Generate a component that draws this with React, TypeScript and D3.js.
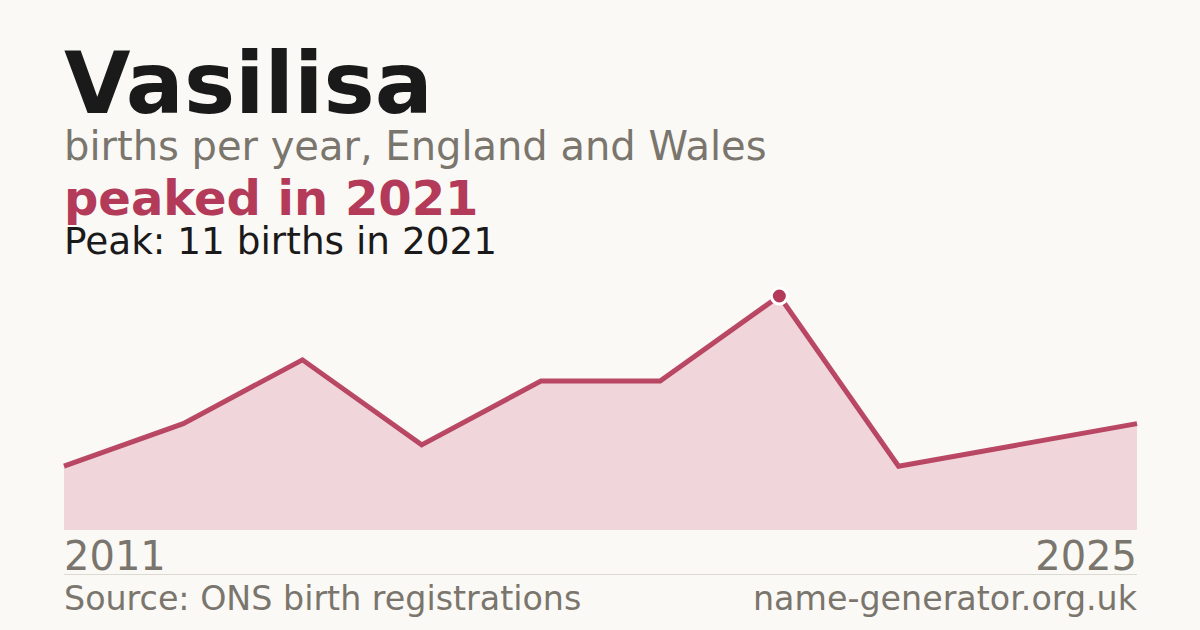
import { useEffect, useRef } from 'react';
import * as d3 from 'd3';

// Births per year (years with registered births)
const years = [2011, 2013, 2014, 2016, 2017, 2019, 2021, 2022, 2024, 2025];
const births = [3, 5, 8, 4, 7, 7, 11, 3, 4, 5];
const axisLabels = ['2011', '2025'];

const BG = '#faf9f5';
const ACCENT = '#b33a58';
const FILL = '#f0d5da';
const MUTED = '#7a756d';
const INK = '#1a1a1a';

export default function App() {
  const svgRef = useRef<SVGSVGElement>(null);

  useEffect(() => {
    if (!svgRef.current) return;
    const svg = d3.select(svgRef.current);
    svg.selectAll('*').remove();

    const width = 1200;
    const height = 630;
    const margin = { left: 64, right: 63, top: 296, bottom: 100 };
    const font = '"DejaVu Sans", sans-serif';

    svg.append('rect').attr('width', width).attr('height', height).attr('fill', BG);

    const data = years.map((y, i) => ({ year: y, value: births[i] }));

    const xScale = d3.scalePoint<number>()
      .domain(years)
      .range([margin.left, width - margin.right]);

    const yScale = d3.scaleLinear()
      .domain([0, d3.max(births) as number])
      .range([height - margin.bottom, margin.top]);

    // Area under the line
    const area = d3.area<{ year: number; value: number }>()
      .x(d => xScale(d.year) as number)
      .y0(yScale(0))
      .y1(d => yScale(d.value));

    svg.append('path')
      .datum(data)
      .attr('d', area)
      .attr('fill', FILL);

    // Line
    const line = d3.line<{ year: number; value: number }>()
      .x(d => xScale(d.year) as number)
      .y(d => yScale(d.value));

    svg.append('path')
      .datum(data)
      .attr('d', line)
      .attr('fill', 'none')
      .attr('stroke', ACCENT)
      .attr('stroke-width', 5)
      .attr('stroke-opacity', 0.92)
      .attr('stroke-linejoin', 'miter');

    // Peak marker
    const peak = data.reduce((a, b) => (b.value > a.value ? b : a));
    svg.append('circle')
      .attr('cx', xScale(peak.year) as number)
      .attr('cy', yScale(peak.value))
      .attr('r', 8)
      .attr('fill', ACCENT)
      .attr('stroke', '#ffffff')
      .attr('stroke-width', 3);

    // Titles
    svg.append('text')
      .attr('x', 64).attr('y', 113)
      .attr('font-family', font).attr('font-size', 86).attr('font-weight', 700)
      .attr('fill', INK)
      .text('Vasilisa');

    svg.append('text')
      .attr('x', 64).attr('y', 160)
      .attr('font-family', font).attr('font-size', 40)
      .attr('fill', MUTED)
      .text('births per year, England and Wales');

    svg.append('text')
      .attr('x', 64).attr('y', 215)
      .attr('font-family', font).attr('font-size', 48).attr('font-weight', 700)
      .attr('fill', ACCENT)
      .text(`peaked in ${peak.year}`);

    svg.append('text')
      .attr('x', 64).attr('y', 254)
      .attr('font-family', font).attr('font-size', 37.4)
      .attr('fill', INK)
      .text(`Peak: ${peak.value} births in ${peak.year}`);

    // Axis end labels
    svg.append('text')
      .attr('x', xScale(years[0]) as number).attr('y', 570)
      .attr('font-family', font).attr('font-size', 40)
      .attr('fill', MUTED)
      .text(axisLabels[0]);

    svg.append('text')
      .attr('x', xScale(years[years.length - 1]) as number).attr('y', 570)
      .attr('text-anchor', 'end')
      .attr('font-family', font).attr('font-size', 40)
      .attr('fill', MUTED)
      .text(axisLabels[1]);

    // Divider
    svg.append('line')
      .attr('x1', margin.left).attr('x2', width - margin.right)
      .attr('y1', 574.5).attr('y2', 574.5)
      .attr('stroke', '#dcd9d2')
      .attr('stroke-width', 1);

    // Footer
    svg.append('text')
      .attr('x', 64).attr('y', 610)
      .attr('font-family', font).attr('font-size', 33.3)
      .attr('fill', MUTED)
      .text('Source: ONS birth registrations');

    svg.append('text')
      .attr('x', width - margin.right).attr('y', 610)
      .attr('text-anchor', 'end')
      .attr('font-family', font).attr('font-size', 33.3)
      .attr('fill', MUTED)
      .text('name-generator.org.uk');
  }, []);

  return (
    <svg
      ref={svgRef}
      width={1200}
      height={630}
      style={{ position: 'absolute', left: 0, top: 0, display: 'block' }}
    />
  );
}
